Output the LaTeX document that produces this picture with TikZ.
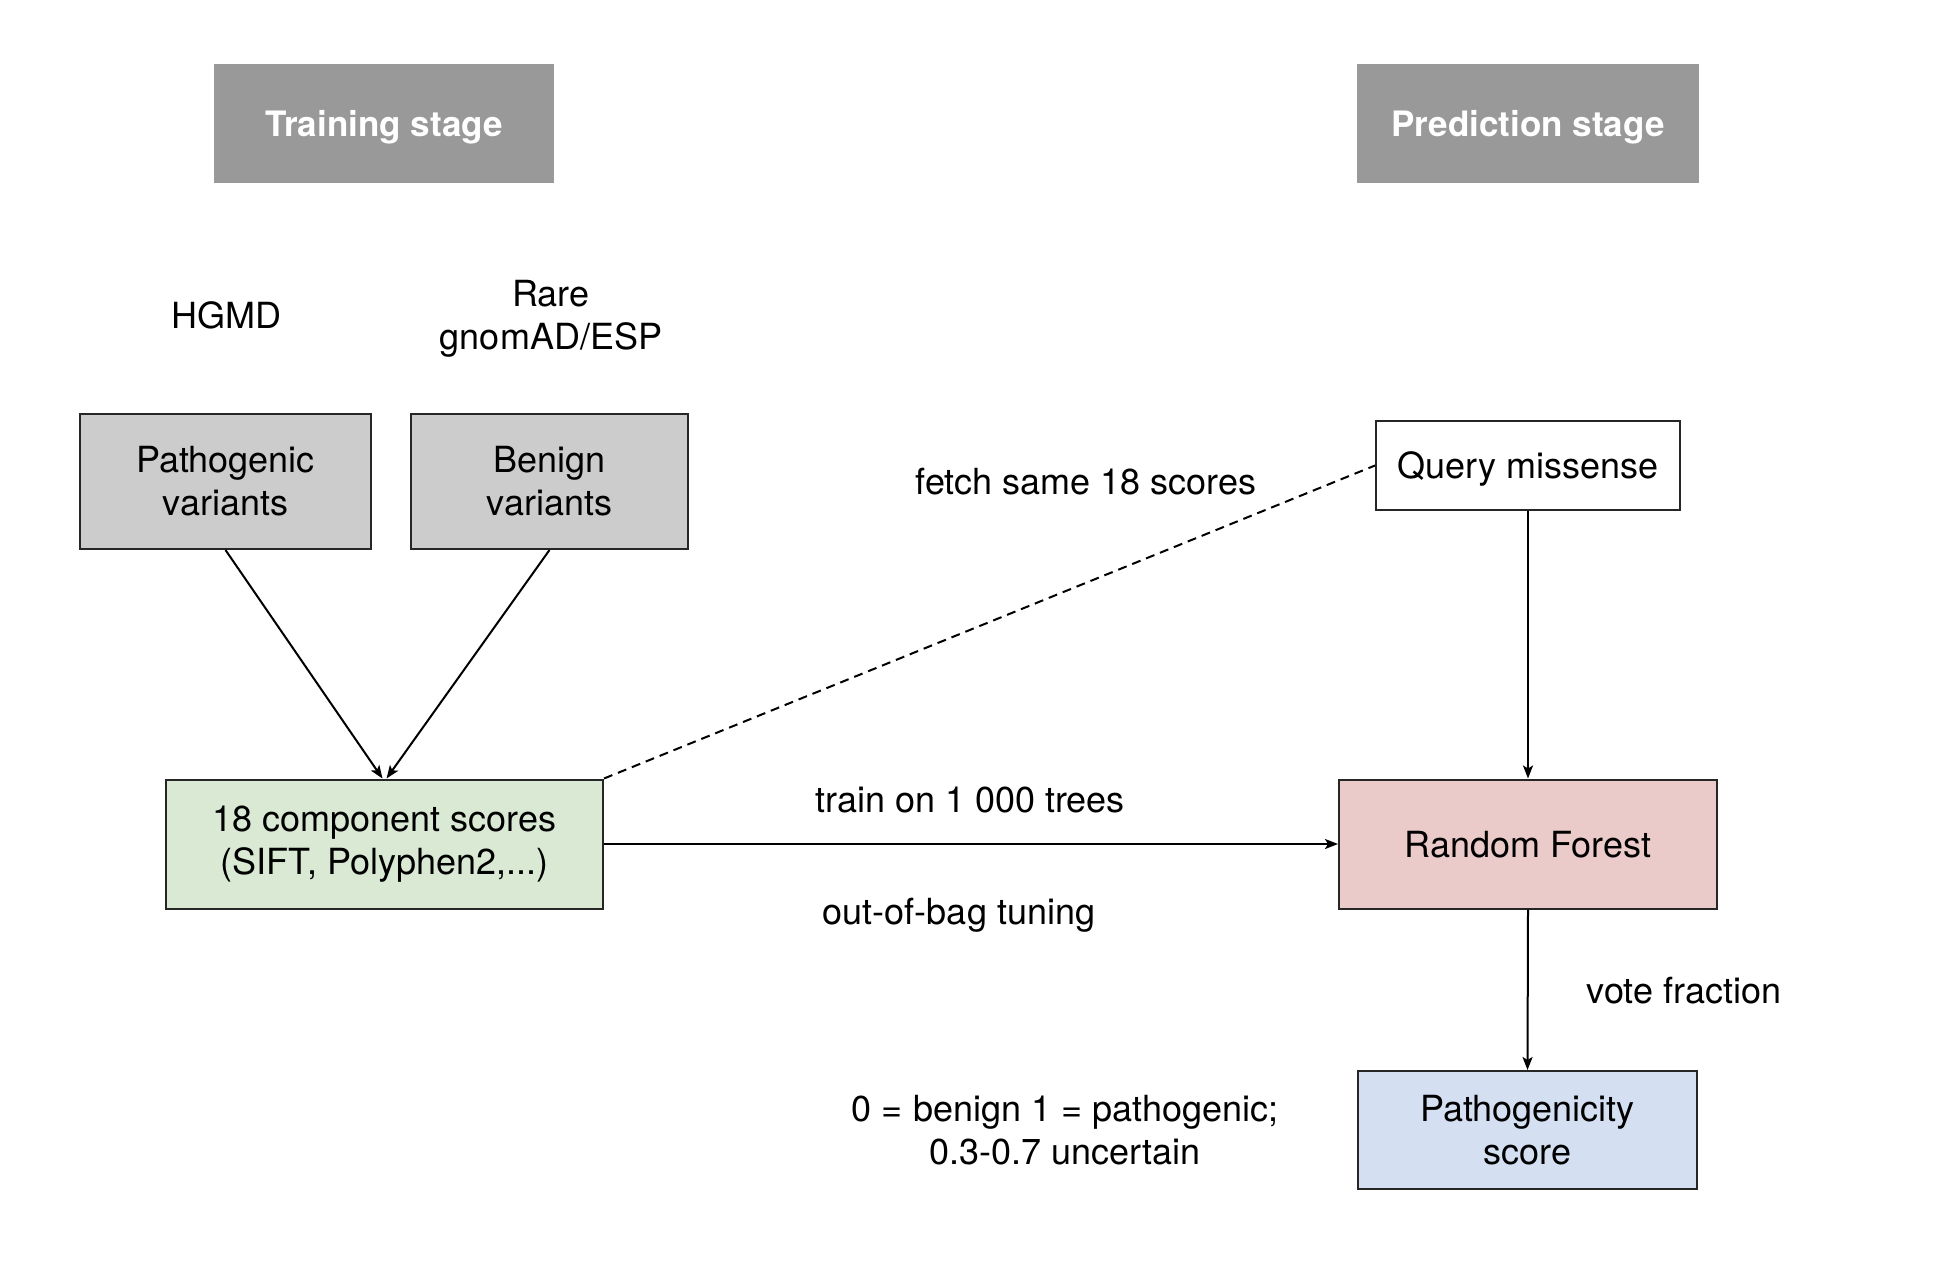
\documentclass[tikz,border=0pt]{standalone}
\usepackage{fontspec}
\setmainfont{TeX Gyre Heros}
\usetikzlibrary{arrows.meta}
\definecolor{hdrgray}{HTML}{999999}
\definecolor{vargray}{HTML}{CCCCCC}
\definecolor{compgreen}{HTML}{D9E9D3}
\definecolor{rfpink}{HTML}{EBCBCA}
\definecolor{scoreblue}{HTML}{D4E0F1}
\tikzset{
  stagebox/.style={rectangle, fill=hdrgray, draw=none, text=white, font=\fontsize{35}{43}\selectfont\bfseries, inner sep=0pt, text depth=0pt},
  flowbox/.style={rectangle, draw=black!85, line width=2pt, font=\fontsize{36}{43}\selectfont, align=center, inner sep=0pt},
  txt/.style={font=\fontsize{36}{43}\selectfont, align=center, inner sep=0pt},
  oneline/.style={text depth=0pt},
  arr/.style={line width=2pt, -{Stealth[length=13pt,width=10pt,inset=3pt]}},
}
\begin{document}
\begin{tikzpicture}[x=1pt,y=-1pt]
\useasboundingbox (0,0) rectangle (1940,1276);
\node[stagebox, minimum width=340pt, minimum height=119pt] (train) at (384,123.5) {Training stage};
\node[stagebox, minimum width=342pt, minimum height=119pt] (pred) at (1528,123.5) {Prediction stage};
\node[txt, oneline] (hgmd) at (226,315) {HGMD};
\node[txt] (rare) at (551,319) {Rare\\gnomAD/ESP};
\node[flowbox, fill=vargray, minimum width=291pt, minimum height=135pt] (patho) at (225.5,481.5) {Pathogenic\\variants};
\node[flowbox, fill=vargray, minimum width=277pt, minimum height=135pt] (benign) at (549.5,481.5) {Benign\\variants};
\node[flowbox, fill=compgreen, minimum width=437pt, minimum height=129pt] (comp) at (384.5,844) {18 component scores\\(SIFT, Polyphen2,...)};
\node[flowbox, oneline, fill=white, minimum width=304pt, minimum height=89pt] (query) at (1528,465.5) {Query missense};
\node[flowbox, oneline, fill=rfpink, minimum width=378pt, minimum height=129pt] (rf) at (1528,844) {Random Forest};
\node[flowbox, fill=scoreblue, minimum width=339pt, minimum height=118pt] (score) at (1527.5,1130) {Pathogenicity\\score};
\node[txt, oneline] (fetch) at (1086,481) {fetch same 18 scores};
\node[txt, oneline] (trainlbl) at (970,800) {train on 1 000 trees};
\node[txt, oneline] (oob) at (959,911) {out-of-bag tuning};
\node[txt, oneline] (vote) at (1684,990) {vote fraction};
\node[txt] (interp) at (1065,1130) {0 = benign 1 = pathogenic;\\0.3-0.7 uncertain};
\draw[arr] (patho.south) -- ([xshift=-2pt]comp.north);
\draw[arr] (benign.south) -- ([xshift=2pt]comp.north);
\draw[arr] (comp.east) -- (rf.west);
\draw[arr] (query.south) -- (rf.north);
\draw[arr] (rf.south) -- (score.north);
\draw[line width=2pt, dash pattern=on 9pt off 6pt] (comp.north east) -- (query.west);
\end{tikzpicture}
\end{document}
